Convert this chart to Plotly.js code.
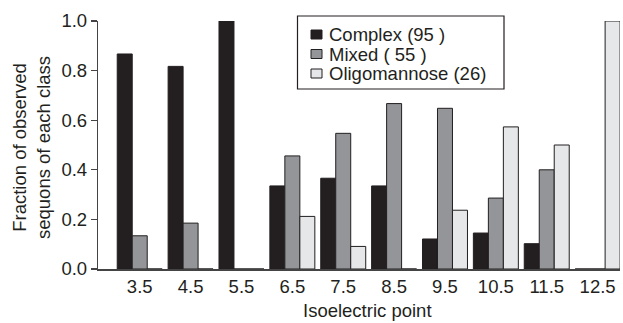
<!DOCTYPE html>
<html><head><meta charset="utf-8">
<script src="https://cdn.plot.ly/plotly-3.0.1.min.js"></script>
<style>html,body{margin:0;padding:0;background:#fff}#chart{width:623px;height:323px}</style>
</head><body><div id="chart"></div>
<script>
var categories = ['3.5','4.5','5.5','6.5','7.5','8.5','9.5','10.5','11.5','12.5'];
var complexVals = [0.867,0.817,1.0,0.335,0.366,0.335,0.121,0.145,0.102,0];
var mixedVals   = [0.134,0.185,0,0.456,0.547,0.667,0.648,0.286,0.400,0];
var oligoVals   = [0,0,0,0.212,0.091,0,0.237,0.573,0.500,1.0];
var seriesNames = ['Complex (95 )','Mixed ( 55 )','Oligomannose (26)'];
var seriesColors = ['#231f20','#939598','#e6e7e8'];

var L = 98, R = 3, T = 21, B = 54, W = 623, H = 323;
var pw = W - L - R, ph = H - T - B;
function xp(px){ return (px - L) / pw; }
function yp(py){ return (H - B - py) / ph; }

var font = 'Liberation Sans, Arial, Helvetica, sans-serif';
var txt = '#231f20';
var allVals = [complexVals, mixedVals, oligoVals];
var traces = allVals.map(function(v,i){
  return {type:'bar', x:categories, y:v, name:seriesNames[i], showlegend:false,
    marker:{color:seriesColors[i], line:{color:'#231f20', width:1}}};
});

var rowY = [34.5, 54, 73.5];
var shapes = [{type:'rect', xref:'paper', yref:'paper', x0:xp(297.5), x1:xp(504), y0:yp(16), y1:yp(89),
  line:{color:'#231f20', width:1.2}, fillcolor:'rgba(255,255,255,0)'}];
var annotations = [];
rowY.forEach(function(cy,i){
  shapes.push({type:'rect', xref:'paper', yref:'paper', x0:xp(311), x1:xp(322), y0:yp(cy-4.5), y1:yp(cy+4.5),
    line:{color:'#231f20', width:1}, fillcolor:seriesColors[i]});
  annotations.push({xref:'paper', yref:'paper', x:xp(327), y:yp(cy), xanchor:'left', yanchor:'middle',
    text:seriesNames[i], showarrow:false, font:{family:font, size:18.5, color:txt}});
});
annotations.push({xref:'paper', yref:'paper', x:xp(367), y:yp(310.5), xanchor:'center', yanchor:'middle',
  text:'Isoelectric point', showarrow:false, font:{family:font, size:18.5, color:txt}});
annotations.push({xref:'paper', yref:'paper', x:xp(31), y:yp(148), xanchor:'center', yanchor:'middle',
  textangle:-90, text:'Fraction of observed<br>sequons of each class', showarrow:false,
  font:{family:font, size:18.5, color:txt}});

var layout = {
  width:W, height:H, margin:{l:L, r:R, t:T, b:B, pad:0},
  paper_bgcolor:'#fff', plot_bgcolor:'#fff',
  barmode:'group', bargap:0.116, bargroupgap:0,
  font:{family:font, size:18.5, color:txt},
  xaxis:{type:'category', range:[-0.82, 9.44], showgrid:false, zeroline:false, showline:true,
    linecolor:'#444', linewidth:1.5, ticks:'', tickfont:{family:font, size:18.5, color:txt}, fixedrange:true},
  yaxis:{range:[0,1], tickvals:[0,0.2,0.4,0.6,0.8,1.0], ticktext:['0.0','0.2','0.4','0.6','0.8','1.0'],
    showgrid:false, zeroline:false, showline:true, linecolor:'#444', linewidth:1.2, ticks:'outside',
    ticklen:6, tickcolor:'#444', tickwidth:1.2, tickfont:{family:font, size:18.5, color:txt}, fixedrange:true},
  shapes:shapes, annotations:annotations
};
Plotly.newPlot('chart', traces, layout, {displayModeBar:false, staticPlot:true});
</script></body></html>
